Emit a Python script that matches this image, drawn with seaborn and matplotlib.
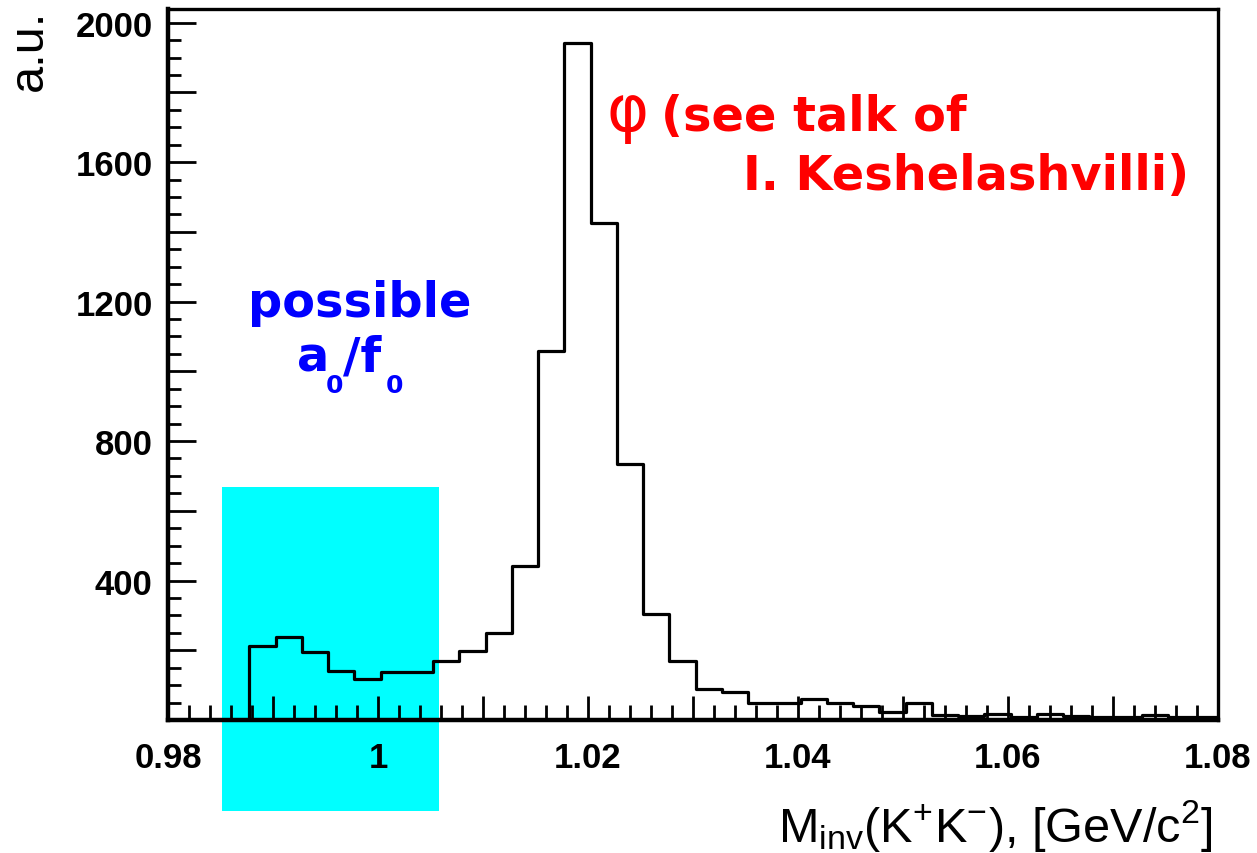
import numpy as np
import pandas as pd
import matplotlib
matplotlib.use("Agg")
import matplotlib.pyplot as plt
import seaborn as sns
from matplotlib.patches import Rectangle
from matplotlib.ticker import FixedLocator, FixedFormatter, MultipleLocator

# K+K- invariant mass histogram: first bin edge and bin width (GeV/c^2)
bin_lo = 0.98775
bin_width = 0.0025
counts = [213, 237, 194, 141, 117, 137, 137, 168, 199, 249,
          442, 1058, 1942, 1426, 735, 304, 168, 89, 79, 48,
          48, 60, 48, 41, 22, 50, 15, 12, 18, 10,
          16, 12, 8, 10, 14, 8, 10]

# axis ticks and labels
x_major = [0.98, 0.99, 1.00, 1.01, 1.02, 1.03, 1.04, 1.05, 1.06, 1.07, 1.08]
x_labels = ["0.98", "", "1", "", "1.02", "", "1.04", "", "1.06", "", "1.08"]
y_major = [0, 200, 400, 600, 800, 1000, 1200, 1400, 1600, 1800, 2000]
y_labels = ["", "", "400", "", "800", "", "1200", "", "1600", "", "2000"]

# highlighted threshold region (mass range and height of the box)
region_x = (0.98514, 1.00581)
region_y = (-261, 668)

edges = bin_lo + bin_width * np.arange(len(counts) + 1)
# step outline: start on the baseline, one level per bin, hold the last level
hist = pd.DataFrame({
    "mass": np.concatenate([[edges[0]], edges]),
    "entries": [0] + counts + [counts[-1]],
})

sns.set_style("ticks")
plt.rcParams["font.family"] = ["Liberation Sans", "DejaVu Sans"]
plt.rcParams["mathtext.fontset"] = "custom"
plt.rcParams["mathtext.rm"] = "Liberation Sans"
plt.rcParams["mathtext.it"] = "Liberation Sans:italic"
plt.rcParams["mathtext.bf"] = "DejaVu Sans:bold"

W, H = 1257, 854
fig = plt.figure(figsize=(W / 100, H / 100), dpi=100)
ax = fig.add_axes([168 / W, 1 - 721 / H, (1218 - 168) / W, (721 - 10) / H])
ax.set_facecolor("white")

ax.add_patch(Rectangle((region_x[0], region_y[0]), region_x[1] - region_x[0],
                       region_y[1] - region_y[0], transform=ax.transData,
                       facecolor="#00ffff", edgecolor="none", clip_on=False,
                       zorder=0.8))

sns.lineplot(data=hist, x="mass", y="entries", drawstyle="steps-post",
             estimator=None, sort=False, color="black", linewidth=2.3,
             ax=ax, zorder=2)

ax.set_xlim(0.98, 1.08)
ax.set_ylim(0, 1.05 * max(counts))
ax.set_xlabel("")
ax.set_ylabel("")
ax.set_axisbelow(False)

ax.xaxis.set_major_locator(FixedLocator(x_major))
ax.xaxis.set_major_formatter(FixedFormatter(x_labels))
ax.xaxis.set_minor_locator(MultipleLocator(0.002))
ax.yaxis.set_major_locator(FixedLocator(y_major))
ax.yaxis.set_major_formatter(FixedFormatter(y_labels))
ax.yaxis.set_minor_locator(MultipleLocator(50))

ax.tick_params(axis="both", which="both", direction="in", top=False,
               right=False, color="black", width=2.0)
ax.tick_params(axis="x", which="major", length=17, pad=15)
ax.tick_params(axis="x", which="minor", length=11)
ax.tick_params(axis="y", which="major", length=20, pad=11)
ax.tick_params(axis="y", which="minor", length=9)
for lab in ax.get_xticklabels() + ax.get_yticklabels():
    lab.set_fontweight("bold")
    lab.set_fontsize(25)
    lab.set_color("black")

for side in ["left", "bottom"]:
    ax.spines[side].set_linewidth(3.2)
for side in ["top", "right"]:
    ax.spines[side].set_linewidth(2.4)
for sp in ax.spines.values():
    sp.set_color("black")
    sp.set_visible(True)

# axis titles
fig.text(29 / W, 1 - 10 / H, "a.u.", rotation=90, ha="center", va="top",
         fontsize=35, color="black")
fig.text(1213 / W, 1 - 842 / H,
         r"M$_{\mathrm{inv}}$(K$^{\mathrm{+}}$K$^{\mathrm{-}}$), [GeV/c$^{\mathrm{2}}$]",
         ha="right", va="baseline", fontsize=35, color="black")

# annotations
red = "#ff0000"
fig.text(607 / W, 1 - 131 / H, "φ", family="DejaVu Sans", fontsize=46,
         color=red, ha="left", va="baseline")
fig.text(661 / W, 1 - 131 / H, "(see talk of", family="DejaVu Sans",
         fontweight="bold", fontsize=34.5, color=red, ha="left", va="baseline")
fig.text(743 / W, 1 - 190 / H, "I. Keshelashvilli)", family="DejaVu Sans",
         fontweight="bold", fontsize=34.5, color=red, ha="left", va="baseline")

blue = "#0000ff"
fig.text(360 / W, 1 - 317 / H, "possible", family="DejaVu Sans",
         fontweight="bold", fontsize=34.5, color=blue, ha="center",
         va="baseline")
# a_0 / f_0 with large, deeply dropped subscripts
for piece, x_px, base_px, size in [("a", 297, 372, 34.5), ("0", 326, 393, 18),
                                   ("/f", 343, 372, 34.5), ("0", 386, 393, 18)]:
    fig.text(x_px / W, 1 - base_px / H, piece, family="DejaVu Sans",
             fontweight="bold", fontsize=size, color=blue, ha="left",
             va="baseline")

fig.savefig("out.png", dpi=100)
